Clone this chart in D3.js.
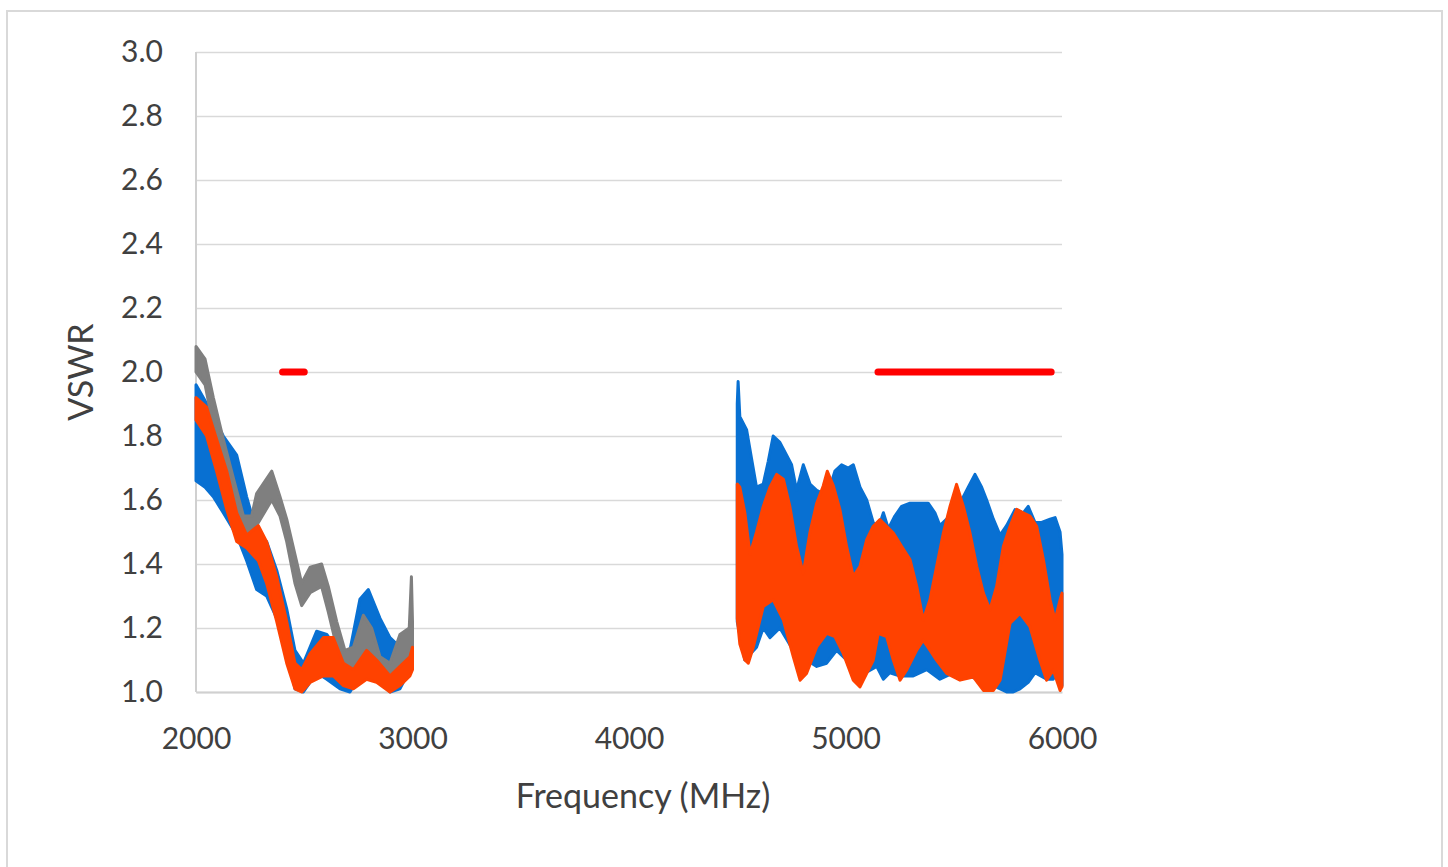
<!DOCTYPE html>
<html>
<head>
<meta charset="utf-8">
<script src="https://cdn.jsdelivr.net/npm/d3@7"></script>
<style>
  html, body { margin: 0; padding: 0; background: #ffffff; }
  svg { display: block; }
  text { font-family: Lato, "Open Sans", sans-serif; fill: #404040; }
</style>
</head>
<body>
<svg id="chart" width="1448" height="867"></svg>
<script>
// ---------- DATA ----------
const xTickValues = [2000, 3000, 4000, 5000, 6000];
const yTickValues = [1.0, 1.2, 1.4, 1.6, 1.8, 2.0, 2.2, 2.4, 2.6, 2.8, 3.0];
const xTitle = "Frequency (MHz)";
const yTitle = "VSWR";

// Blue trace, 2000-3000 MHz: upper and lower edges of the noisy band [MHz, VSWR]
const blueLowHi = [[2000,1.96],[2042,1.91],[2080,1.86],[2126,1.80],[2188,1.74],[2234,1.61],[2280,1.50],[2326,1.47],[2373,1.38],[2419,1.26],[2457,1.13],[2496,1.09],[2557,1.19],[2604,1.18],[2665,1.12],[2711,1.13],[2757,1.29],[2796,1.32],[2850,1.23],[2896,1.17],[2942,1.14],[2988,1.20],[3000,1.18]];
const blueLowLo = [[2000,1.66],[2042,1.64],[2080,1.61],[2126,1.56],[2188,1.49],[2234,1.41],[2280,1.32],[2326,1.30],[2373,1.23],[2419,1.13],[2457,1.01],[2496,1.00],[2557,1.06],[2604,1.04],[2665,1.01],[2711,1.00],[2757,1.05],[2796,1.07],[2850,1.03],[2896,1.00],[2942,1.01],[2988,1.07],[3000,1.09]];
// Gray trace, 2000-3000 MHz
const grayLowHi = [[2000,2.08],[2042,2.04],[2080,1.92],[2126,1.79],[2172,1.67],[2219,1.55],[2257,1.55],[2280,1.62],[2350,1.69],[2388,1.61],[2419,1.54],[2457,1.43],[2488,1.34],[2527,1.39],[2580,1.40],[2611,1.33],[2650,1.22],[2688,1.13],[2727,1.14],[2773,1.24],[2811,1.20],[2850,1.11],[2896,1.09],[2942,1.18],[2985,1.20],[2995,1.36],[3000,1.22]];
const grayLowLo = [[2000,2.00],[2042,1.96],[2080,1.83],[2126,1.69],[2172,1.55],[2219,1.47],[2257,1.49],[2280,1.52],[2350,1.60],[2388,1.55],[2419,1.47],[2457,1.34],[2488,1.27],[2527,1.31],[2580,1.33],[2611,1.25],[2650,1.14],[2688,1.05],[2727,1.04],[2773,1.09],[2811,1.05],[2850,1.03],[2896,1.01],[2942,1.05],[2985,1.08],[2995,1.09],[3000,1.14]];
// Orange trace, 2000-3000 MHz
const orangeLowHi = [[2000,1.92],[2049,1.89],[2095,1.79],[2142,1.69],[2188,1.56],[2234,1.49],[2288,1.52],[2326,1.47],[2373,1.36],[2419,1.22],[2457,1.09],[2488,1.07],[2527,1.12],[2588,1.17],[2634,1.17],[2681,1.09],[2727,1.07],[2788,1.13],[2834,1.10],[2896,1.05],[2942,1.08],[2988,1.11],[3000,1.14]];
const orangeLowLo = [[2000,1.85],[2049,1.80],[2095,1.69],[2142,1.57],[2188,1.47],[2234,1.45],[2288,1.41],[2326,1.34],[2373,1.22],[2419,1.09],[2457,1.01],[2488,1.00],[2527,1.03],[2588,1.05],[2634,1.05],[2681,1.02],[2727,1.01],[2788,1.04],[2834,1.03],[2896,1.00],[2942,1.02],[2988,1.05],[3000,1.07]];

// Blue trace, 4500-6000 MHz
const blueHighHi = [[4500,1.90],[4504,1.97],[4512,1.86],[4543,1.82],[4566,1.73],[4589,1.64],[4620,1.65],[4643,1.72],[4666,1.80],[4697,1.78],[4728,1.74],[4751,1.71],[4774,1.63],[4805,1.71],[4836,1.65],[4867,1.63],[4897,1.62],[4928,1.64],[4951,1.69],[4982,1.71],[5013,1.70],[5036,1.71],[5067,1.64],[5098,1.60],[5128,1.53],[5151,1.51],[5175,1.56],[5198,1.51],[5228,1.55],[5259,1.58],[5298,1.59],[5344,1.59],[5382,1.59],[5413,1.56],[5436,1.52],[5467,1.54],[5498,1.55],[5529,1.59],[5567,1.64],[5598,1.68],[5629,1.64],[5652,1.60],[5683,1.54],[5714,1.49],[5744,1.52],[5783,1.57],[5821,1.56],[5844,1.58],[5875,1.53],[5906,1.53],[5945,1.54],[5968,1.545],[5991,1.50],[6000,1.43]];
const blueHighLo = [[4500,1.22],[4535,1.10],[4589,1.14],[4620,1.20],[4651,1.17],[4697,1.20],[4759,1.13],[4820,1.10],[4867,1.08],[4913,1.09],[4959,1.13],[5005,1.10],[5067,1.05],[5144,1.08],[5175,1.04],[5205,1.06],[5252,1.05],[5313,1.05],[5375,1.07],[5436,1.04],[5498,1.06],[5560,1.05],[5621,1.04],[5683,1.02],[5744,1.00],[5775,1.00],[5806,1.01],[5844,1.03],[5875,1.06],[5929,1.04],[5960,1.04],[5975,1.08],[6000,1.02]];
// Orange trace, 4500-6000 MHz
const orangeHighHi = [[4500,1.65],[4512,1.64],[4535,1.56],[4559,1.43],[4589,1.50],[4620,1.58],[4651,1.64],[4682,1.68],[4713,1.665],[4743,1.58],[4774,1.455],[4805,1.37],[4836,1.50],[4867,1.59],[4897,1.644],[4916,1.69],[4944,1.644],[4974,1.571],[5005,1.455],[5036,1.361],[5067,1.393],[5098,1.476],[5128,1.518],[5159,1.539],[5190,1.518],[5221,1.497],[5259,1.455],[5298,1.414],[5329,1.330],[5359,1.225],[5390,1.288],[5421,1.393],[5452,1.497],[5483,1.581],[5513,1.649],[5544,1.581],[5575,1.497],[5606,1.393],[5637,1.309],[5667,1.257],[5698,1.330],[5729,1.455],[5760,1.518],[5791,1.571],[5821,1.560],[5852,1.550],[5883,1.518],[5914,1.414],[5945,1.288],[5968,1.225],[5991,1.288],[6000,1.309]];
const orangeHighLo = [[4500,1.23],[4512,1.15],[4535,1.10],[4551,1.09],[4574,1.14],[4620,1.267],[4666,1.288],[4713,1.225],[4759,1.110],[4790,1.037],[4820,1.058],[4867,1.141],[4913,1.183],[4951,1.173],[4990,1.120],[5036,1.037],[5067,1.016],[5098,1.058],[5128,1.099],[5151,1.183],[5190,1.173],[5221,1.099],[5252,1.037],[5282,1.068],[5329,1.131],[5359,1.162],[5390,1.131],[5421,1.099],[5467,1.058],[5529,1.037],[5590,1.047],[5637,1.005],[5683,1.005],[5714,1.037],[5760,1.215],[5806,1.246],[5852,1.204],[5898,1.099],[5929,1.037],[5960,1.068],[5991,1.005],[6000,1.016]];

// Red specification limit lines (VSWR 2.0)
const specLow = [[2400,2.0],[2500,2.0]];
const specHigh = [[5150,2.0],[5950,2.0]];

// ---------- DRAWING ----------
const svg = d3.select("#chart");
const x = d3.scaleLinear().domain([2000, 6000]).range([196, 1062]);
const y = d3.scaleLinear().domain([1.0, 3.0]).range([692, 52]);

// outer chart border
svg.append("rect")
  .attr("x", 7).attr("y", 11).attr("width", 1435).attr("height", 880)
  .attr("fill", "#ffffff").attr("stroke", "#d9d9d9").attr("stroke-width", 2);

// horizontal gridlines + y tick labels
const yAxis = d3.axisLeft(y).tickValues(yTickValues)
  .tickSize(-(x.range()[1] - x.range()[0])).tickFormat(d3.format(".1f")).tickPadding(33);
const gy = svg.append("g").attr("transform", `translate(${x.range()[0]},0)`).call(yAxis);
gy.select(".domain").remove();
gy.selectAll(".tick line").attr("stroke", "#d9d9d9").attr("stroke-width", 1.5);
gy.selectAll(".tick text").attr("font-size", 30).attr("font-family", "Lato, 'Open Sans', sans-serif").attr("fill", "#404040");

// y axis line
svg.append("line").attr("x1", x(2000)).attr("x2", x(2000)).attr("y1", y(3.0)).attr("y2", y(1.0))
  .attr("stroke", "#d0d0d0").attr("stroke-width", 2);

// x axis
const gx = svg.append("g").attr("transform", `translate(0,${y(1.0)})`)
  .call(d3.axisBottom(x).tickValues(xTickValues).tickSize(0).tickPadding(36).tickFormat(d3.format("d")));
gx.select(".domain").attr("stroke", "#d0d0d0").attr("stroke-width", 2);
gx.selectAll(".tick text").attr("font-size", 30).attr("font-family", "Lato, 'Open Sans', sans-serif").attr("fill", "#404040");

// bands
const line = d3.line().x(d => x(d[0])).y(d => y(d[1]));
function band(hi, lo, color) {
  const pts = hi.concat(lo.slice().reverse());
  svg.append("path").attr("d", line(pts) + "Z")
    .attr("fill", color).attr("stroke", color).attr("stroke-width", 3).attr("stroke-linejoin", "round");
}
const BLUE = "#0870d2", GRAY = "#7f7f7f", ORANGE = "#ff4200";
band(blueLowHi, blueLowLo, BLUE);
band(grayLowHi, grayLowLo, GRAY);
band(orangeLowHi, orangeLowLo, ORANGE);
band(blueHighHi, blueHighLo, BLUE);
band(orangeHighHi, orangeHighLo, ORANGE);

// spec lines
[specLow, specHigh].forEach(s => {
  svg.append("path").attr("d", line(s)).attr("fill", "none")
    .attr("stroke", "#ff0000").attr("stroke-width", 7).attr("stroke-linecap", "round");
});

// titles
svg.append("text").attr("x", 643).attr("y", 808).attr("text-anchor", "middle")
  .attr("font-size", 34).text(xTitle);
svg.append("text").attr("transform", "translate(93,372) rotate(-90)").attr("text-anchor", "middle")
  .attr("font-size", 34).text(yTitle);
</script>
</body>
</html>
